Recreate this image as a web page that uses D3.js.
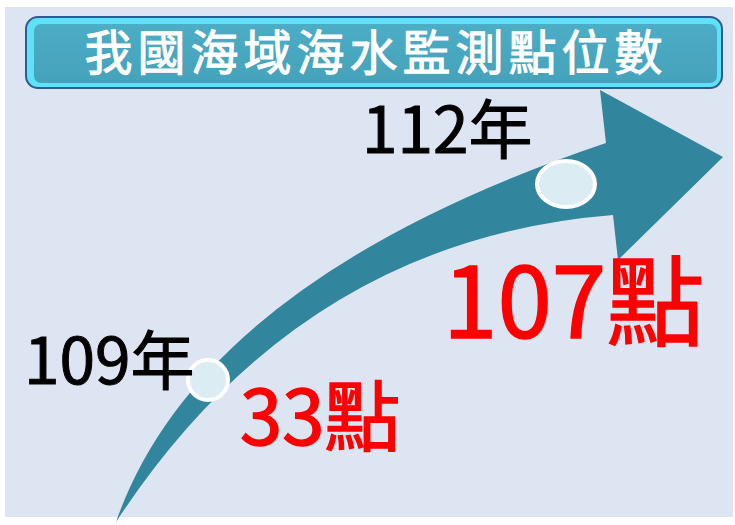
<!DOCTYPE html>
<html>
<head>
<meta charset="utf-8">
<script src="https://cdn.jsdelivr.net/npm/d3@7"></script>
<style>
  body { margin: 0; background: #fff; }
  svg { display: block; }
  text { font-family: "Noto Sans CJK TC", "Noto Sans", sans-serif; }
</style>
</head>
<body>
<figure id="chart" style="margin:0"></figure>
<script>
const title = "我國海域海水監測點位數";
const years = [109, 112];
const yearLabels = ["109年", "112年"];
const counts = [33, 107];
const countLabels = ["33點", "107點"];

const width = 735, height = 525;

const svg = d3.select("figure#chart")
  .append("svg")
  .attr("width", width)
  .attr("height", height);

// panel background
svg.append("rect")
  .attr("x", 5).attr("y", 7)
  .attr("width", 728).attr("height", 510)
  .attr("fill", "#dce5f1");

// title box
const grad = svg.append("defs").append("linearGradient")
  .attr("id", "tfill").attr("x1", 0).attr("y1", 0).attr("x2", 0).attr("y2", 1);
grad.append("stop").attr("offset", "0%").attr("stop-color", "#4cadc6");
grad.append("stop").attr("offset", "100%").attr("stop-color", "#45a2ba");

const tb = svg.append("g");
tb.append("rect")
  .attr("x", 26).attr("y", 17).attr("width", 696).attr("height", 71)
  .attr("rx", 12)
  .attr("fill", "#5ee2f8")
  .attr("stroke", "#2f5b92").attr("stroke-width", 2);
tb.append("rect")
  .attr("x", 34).attr("y", 24).attr("width", 683).attr("height", 59)
  .attr("rx", 7)
  .attr("fill", "url(#tfill)");
tb.append("text")
  .attr("x", 376).attr("y", 70)
  .attr("text-anchor", "middle")
  .attr("font-size", 48)
  .attr("letter-spacing", 5)
  .attr("fill", "#fff")
  .attr("stroke", "#fff").attr("stroke-width", 1)
  .text(title);

// year -> point along the arrow
const x = d3.scaleLinear().domain(d3.extent(years)).range([208, 566]);
const y = d3.scaleLinear().domain(d3.extent(years)).range([380, 184]);

// curved arrow
const p = d3.path();
p.moveTo(116, 522);
p.quadraticCurveTo(200, 280, 606, 143);
p.lineTo(600, 90);
p.lineTo(723, 157);
p.lineTo(618, 260);
p.lineTo(613, 215);
p.quadraticCurveTo(300, 240, 116, 522);
p.closePath();
svg.append("path")
  .attr("d", p.toString())
  .attr("fill", "#31859c");

// markers
const rx = [20, 29], ry = [20, 23];
svg.selectAll("ellipse.pt")
  .data(years)
  .join("ellipse")
  .attr("class", "pt")
  .attr("cx", d => x(d))
  .attr("cy", d => y(d))
  .attr("rx", (d, i) => rx[i])
  .attr("ry", (d, i) => ry[i])
  .attr("fill", "#dbedf3")
  .attr("stroke", "#fff")
  .attr("stroke-width", 4);

// year labels
const yearPos = [[24, 384], [362, 153]];
svg.selectAll("text.yr")
  .data(yearLabels)
  .join("text")
  .attr("class", "yr")
  .attr("x", (d, i) => yearPos[i][0])
  .attr("y", (d, i) => yearPos[i][1])
  .attr("font-size", 64)
  .attr("fill", "#000")
  .attr("stroke", "#000").attr("stroke-width", 1)
  .text(d => d);

// count labels
const countPos = [[240, 445, 76], [443, 338, 98]];
svg.selectAll("text.ct")
  .data(counts)
  .join("text")
  .attr("class", "ct")
  .attr("x", (d, i) => countPos[i][0])
  .attr("y", (d, i) => countPos[i][1])
  .attr("font-size", (d, i) => countPos[i][2])
  .attr("fill", "#ff0000")
  .attr("stroke", "#ff0000").attr("stroke-width", 1.5)
  .text((d, i) => countLabels[i]);
</script>
</body>
</html>
